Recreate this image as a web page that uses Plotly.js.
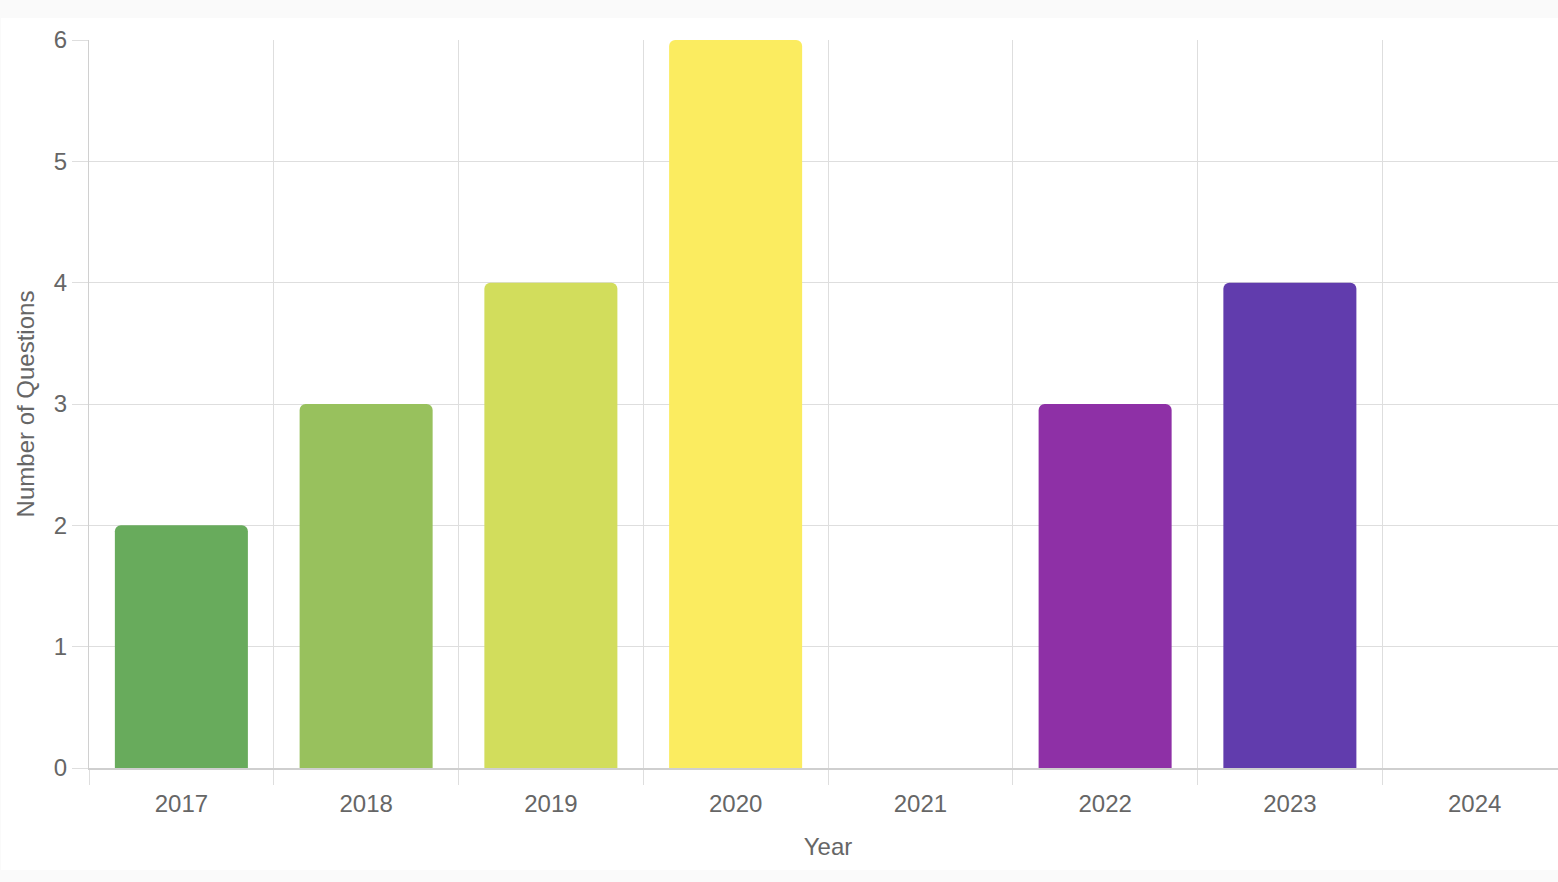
<!DOCTYPE html>
<html>
<head>
<meta charset="utf-8">
<script src="https://cdn.plot.ly/plotly-3.0.1.min.js"></script>
<style>
  html, body { margin: 0; padding: 0; background: #fafafa; overflow: hidden; width: 1558px; height: 882px; }
  #card { position: absolute; left: 1px; top: 18px; width: 1557px; height: 852px; background: #ffffff; overflow: hidden; }
  #chart { position: absolute; left: -1px; top: 0; width: 1580px; height: 852px; }
</style>
</head>
<body>
<div id="card"><div id="chart"></div></div>
<script>
const years = ["2017", "2018", "2019", "2020", "2021", "2022", "2023", "2024"];
const questionCounts = [2, 3, 4, 6, 0, 3, 4, 0];
const barColors = ["#68ab5c", "#98c15d", "#d2dd5c", "#fbec60", "#f4a742", "#8e30a6", "#613cad", "#3f6fc4"];
const yTickValues = [0, 1, 2, 3, 4, 5, 6];

const fontFamily = "'Liberation Sans', Arial, Helvetica, sans-serif";
const textColor = "#666666";
const gridColor = "#dedede";

const trace = {
  type: "bar",
  x: years,
  y: questionCounts,
  width: 0.72,
  marker: { color: barColors, cornerradius: 6, line: { width: 0 } },
  hoverinfo: "x+y"
};

const layout = {
  width: 1580,
  height: 852,
  margin: { l: 89, r: 13, t: 22, b: 102 },
  paper_bgcolor: "#ffffff",
  plot_bgcolor: "#ffffff",
  showlegend: false,
  font: { family: fontFamily, size: 24, color: textColor },
  bargap: 0.28,
  xaxis: {
    type: "category",
    categoryorder: "array",
    categoryarray: years,
    range: [-0.5, 7.5],
    tickson: "boundaries",
    ticks: "outside",
    ticklen: 15,
    tickcolor: gridColor,
    tickwidth: 1,
    ticklabelstandoff: 14,
    showgrid: true,
    gridcolor: gridColor,
    gridwidth: 1,
    showline: true,
    linecolor: "#cfcfcf",
    linewidth: 1.5,
    zeroline: false,
    tickfont: { family: fontFamily, size: 24, color: textColor },
    title: { text: "Year", font: { family: fontFamily, size: 24, color: textColor }, standoff: 22 }
  },
  yaxis: {
    range: [0, 6],
    tickvals: yTickValues,
    ticktext: yTickValues.map(String),
    ticks: "outside",
    ticklen: 16,
    tickcolor: gridColor,
    tickwidth: 1,
    showgrid: true,
    gridcolor: gridColor,
    gridwidth: 1,
    showline: true,
    linecolor: "#d0d0d0",
    linewidth: 1,
    zeroline: false,
    tickfont: { family: fontFamily, size: 24, color: textColor },
    title: { text: "Number of Questions", font: { family: fontFamily, size: 24, color: textColor }, standoff: 12 }
  }
};

Plotly.newPlot("chart", [trace], layout, { displayModeBar: false, staticPlot: true });
</script>
</body>
</html>
